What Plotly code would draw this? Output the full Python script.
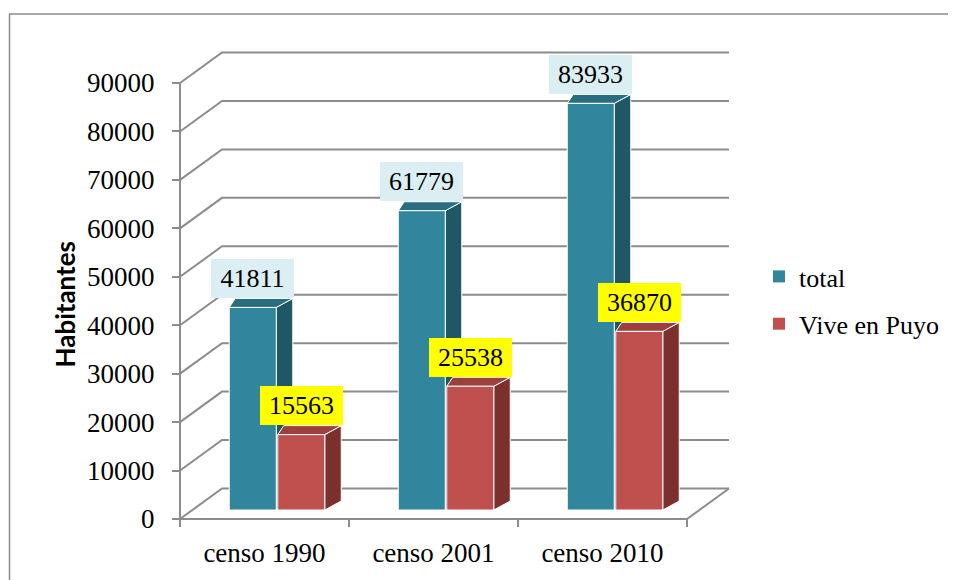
import plotly.graph_objects as go

# ---------------- data ----------------
categories = ["censo 1990", "censo 2001", "censo 2010"]
total = [41811, 61779, 83933]
vive_en_puyo = [15563, 25538, 36870]
series_names = ["total", "Vive en Puyo"]
y_ticks = [0, 10000, 20000, 30000, 40000, 50000, 60000, 70000, 80000, 90000]
y_title = "Habitantes"

# ---------------- styling / geometry (pixels) ----------------
OFF = 8                 # page body margin: screen px = figure px + OFF
W, H = 956 - OFF, 580 - OFF

def fx(screen_x):
    return screen_x - OFF

def fy(screen_y):
    return screen_y - OFF

AX_X_PX = fx(180)      # front value axis position
CAT_PX = 169           # width of one category on the front edge
Y0_PX = fy(519)        # pixel row of value 0 (front)
YMAX_PX = fy(83)       # pixel row of value 90000 (front)
PX_PER_X = CAT_PX
PX_PER_Y = (Y0_PX - YMAX_PX) / y_ticks[-1]

def dx(px):
    return px / PX_PER_X

def dy(px):
    return px / PX_PER_Y

BACK_DX, BACK_DY = dx(42), dy(30.5)     # depth of the 3D box
BAR_DX, BAR_DY = dx(12.5), dy(9)        # bar front face depth
SIDE_DX, SIDE_DY = dx(16.5), dy(9)      # bar side/top depth
TOP_LEFT_DX = dx(6)
BAR_W, BAR_GAP = dx(47), dx(1.5)

GRID = "#8c8c8c"
FONT = "Liberation Serif"
colors = {
    0: dict(front="#31859C", top="#296E80", side="#205767", label="#DBEEF4"),
    1: dict(front="#C0504D", top="#9C3F3D", side="#7C302E", label="#FFFF00"),
}

ncat = len(categories)
fig = go.Figure()

# ---- 3D grid (back wall + left side diagonals) ----
gx, gy = [], []
for v in y_ticks:
    gx += [0, BACK_DX, ncat + BACK_DX, None]
    gy += [v, v + BACK_DY, v + BACK_DY, None]
# floor front edge and right edge
gx += [0, ncat, ncat + BACK_DX, None]
gy += [0, 0, BACK_DY, None]
# front value axis line
gx += [0, 0, None]
gy += [0, y_ticks[-1], None]
# category separator ticks
for i in range(ncat + 1):
    gx += [i, i, None]
    gy += [0, -dy(8), None]
fig.add_trace(go.Scatter(x=gx, y=gy, mode="lines", line=dict(color=GRID, width=2),
                         hoverinfo="skip", showlegend=False))

# ---- 3D bars ----
annotations = []
for i in range(ncat):
    c = i + 0.5 + BAR_DX
    for s, vals in enumerate([total, vive_en_puyo]):
        v = vals[i]
        xl = c - BAR_GAP / 2 - BAR_W if s == 0 else c + BAR_GAP / 2
        xr = xl + BAR_W
        base = BAR_DY
        top = base + v
        col = colors[s]
        polys = [
            ([xr, xr + SIDE_DX, xr + SIDE_DX, xr, xr],
             [base, base + SIDE_DY, top + SIDE_DY, top, base], col["side"]),
            ([xl, xl + TOP_LEFT_DX, xr + SIDE_DX, xr, xl],
             [top, top + SIDE_DY, top + SIDE_DY, top, top], col["top"]),
            ([xl, xr, xr, xl, xl],
             [base, base, top, top, base], col["front"]),
        ]
        for px_, py_, fc in polys:
            fig.add_trace(go.Scatter(x=px_, y=py_, mode="lines", fill="toself",
                                     fillcolor=fc, line=dict(color="white", width=1),
                                     hoverinfo="skip", showlegend=False))
        annotations.append(dict(
            x=(xl + xr) / 2, y=top + dy(9.5), xref="x", yref="y",
            text=str(v), showarrow=False, xanchor="center", yanchor="bottom",
            width=81, height=37, bgcolor=col["label"], borderpad=1, borderwidth=0,
            font=dict(family=FONT, size=26, color="black")))

# ---- legend entries ----
for s, name in enumerate(series_names):
    fig.add_trace(go.Bar(x=[None], y=[None], name=name, legendgroup=name,
                         marker=dict(color=colors[s]["front"], line=dict(width=0))))

annotations.append(dict(
    x=fx(64) / W, y=1 - fy(304.5) / H, xref="paper", yref="paper", text=y_title,
    textangle=-90, showarrow=False, xanchor="center", yanchor="middle",
    font=dict(family="Lato", size=26, color="black", weight="bold")))

fig.update_layout(
    width=W, height=H,
    margin=dict(l=0, r=0, t=0, b=0),
    paper_bgcolor="white", plot_bgcolor="rgba(0,0,0,0)",
    showlegend=True,
    legend=dict(x=fx(759) / W, y=1 - fy(253) / H, xanchor="left", yanchor="top",
                font=dict(family=FONT, size=26, color="black"),
                tracegroupgap=10.5, bgcolor="rgba(0,0,0,0)"),
    annotations=annotations,
    shapes=[dict(type="rect", xref="paper", yref="paper",
                 x0=fx(9.5) / W, x1=1.02, y0=-0.05, y1=1 - fy(14) / H,
                 line=dict(color="#8c8c8c", width=1.5), layer="below")],
    xaxis=dict(type="linear", range=[-AX_X_PX / PX_PER_X, (W - AX_X_PX) / PX_PER_X],
               anchor="free", position=(H - Y0_PX) / H,
               tickvals=[i + 0.5 for i in range(ncat)], ticktext=categories,
               ticks="", showline=False, showgrid=False, zeroline=False,
               tickfont=dict(family=FONT, size=27, color="black"),
               ticklabelstandoff=15, fixedrange=True),
    yaxis=dict(type="linear", range=[-(H - Y0_PX) / PX_PER_Y, Y0_PX / PX_PER_Y],
               anchor="free", position=AX_X_PX / W,
               tickvals=y_ticks, ticktext=[str(t) for t in y_ticks],
               ticks="outside", ticklen=8, tickwidth=2, tickcolor=GRID,
               showline=False, showgrid=False, zeroline=False,
               tickfont=dict(family=FONT, size=27, color="black"),
               ticklabelstandoff=12, fixedrange=True),
)

fig.write_html("out.html")
